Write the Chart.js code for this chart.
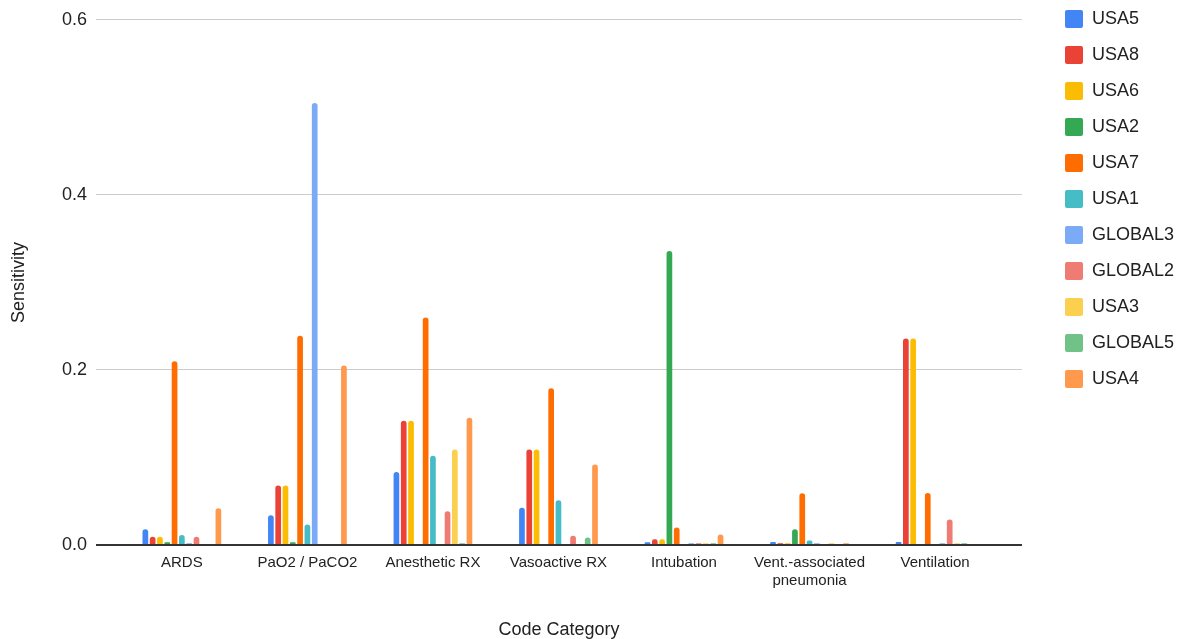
<!DOCTYPE html>
<html>
<head>
<meta charset="utf-8">
<script src="https://cdn.jsdelivr.net/npm/chart.js@4/dist/chart.umd.min.js"></script>
<style>
  html, body { margin: 0; padding: 0; background: #fff; }
  #wrap { width: 1180px; height: 639px; position: relative; }
</style>
</head>
<body>
<div id="wrap"><canvas id="chart"></canvas></div>
<script>
const categories = ['ARDS', 'PaO2 / PaCO2', 'Anesthetic RX', 'Vasoactive RX', 'Intubation', ['Vent.-associated', 'pneumonia'], 'Ventilation']

const seriesNames = ['USA5', 'USA8', 'USA6', 'USA2', 'USA7', 'USA1', 'GLOBAL3', 'GLOBAL2', 'USA3', 'GLOBAL5', 'USA4']
const seriesColors = ['#4285f4', '#ea4335', '#fbbc04', '#34a853', '#ff6d01', '#46bdc6', '#7baaf7', '#f07b72', '#fcd04f', '#71c287', '#ff994d']

// one array per series, in category order
const usa5    = [0.018, 0.034, 0.0835, 0.0425, 0.003, 0.0035, 0.0035]
const usa8    = [0.0095, 0.068, 0.142, 0.109, 0.0065, 0.002, 0.236]
const usa6    = [0.0095, 0.068, 0.142, 0.109, 0.0065, 0.002, 0.236]
const usa2    = [0.003, 0.003, 0, 0, 0.336, 0.018, 0]
const usa7    = [0.21, 0.239, 0.26, 0.179, 0.02, 0.059, 0.0595]
const usa1    = [0.0115, 0.0235, 0.102, 0.051, 0, 0.005, 0]
const global3 = [0.002, 0.505, 0, 0, 0.002, 0.002, 0.002]
const global2 = [0.0095, 0, 0.0385, 0.0105, 0.002, 0, 0.029]
const usa3    = [0.001, 0.001, 0.109, 0.001, 0.002, 0.002, 0.002]
const global5 = [0.001, 0.001, 0.002, 0.0085, 0.002, 0, 0.002]
const usa4    = [0.042, 0.205, 0.1455, 0.092, 0.012, 0.002, 0]

const seriesValues = [usa5, usa8, usa6, usa2, usa7, usa1, global3, global2, usa3, global5, usa4]

const yTicks = [0, 0.2, 0.4, 0.6]

const font = "Arial, 'Liberation Sans', sans-serif"
const textColor = '#222222'

// move the legend to where Google put it
const legendPlace = {
    id: 'legendPlace',
    afterLayout(chart) {
        const lg = chart.legend
        const w = lg.width
        lg.left = 1047
        lg.right = lg.left + w
        lg.top = -8
    }
}

const datasets = seriesNames.map((name, i) => ({
    label: name,
    data: seriesValues[i].map((v, j) => ({ x: j, y: v })),
    backgroundColor: seriesColors[i],
    borderWidth: 0,
    borderRadius: 3,
    borderSkipped: 'start',
    categoryPercentage: 0.64,
    barPercentage: 0.78
}))

new Chart(document.getElementById('chart'), {
    type: 'bar',
    data: { datasets: datasets },
    options: {
        responsive: true,
        maintainAspectRatio: false,
        animation: false,
        layout: { padding: { top: 18, right: 21, left: 0, bottom: 0 } },
        plugins: {
            legend: {
                position: 'right',
                align: 'start',
                labels: {
                    boxWidth: 18,
                    boxHeight: 18,
                    padding: 18,
                    color: textColor,
                    font: { family: font, size: 18 },
                    generateLabels(chart) {
                        return chart.data.datasets.map((ds, i) => ({
                            text: ds.label,
                            fillStyle: ds.backgroundColor,
                            strokeStyle: ds.backgroundColor,
                            lineWidth: 0,
                            borderRadius: 2,
                            fontColor: textColor,
                            datasetIndex: i
                        }))
                    }
                }
            },
            tooltip: { enabled: false }
        },
        scales: {
            x: {
                type: 'linear',
                offset: false,
                min: -0.684,
                max: 6.692,
                afterFit: (s) => { s.height = 94 },
                afterBuildTicks: (s) => { s.ticks = categories.map((c, i) => ({ value: i })) },
                grid: { display: false, drawTicks: false, offset: false },
                border: { display: false },
                ticks: {
                    autoSkip: false,
                    maxRotation: 0,
                    padding: 8,
                    color: textColor,
                    font: { family: font, size: 15, lineHeight: 1.25 },
                    callback: (v) => categories[v]
                },
                title: {
                    display: true,
                    text: 'Code Category',
                    color: textColor,
                    font: { family: font, size: 18 },
                    padding: { top: 4, bottom: -2 }
                }
            },
            y: {
                min: 0,
                max: 0.6,
                afterFit: (s) => { s.width = 96 },
                afterBuildTicks: (s) => { s.ticks = yTicks.map(v => ({ value: v })) },
                grid: {
                    drawTicks: false,
                    color: (c) => c.tick && c.tick.value === 0 ? '#333333' : '#cccccc',
                    lineWidth: (c) => c.tick && c.tick.value === 0 ? 2 : 1
                },
                border: { display: false },
                ticks: {
                    padding: 9,
                    color: textColor,
                    font: { family: font, size: 18 },
                    callback: (v) => v.toFixed(1)
                },
                title: {
                    display: true,
                    text: 'Sensitivity',
                    color: textColor,
                    font: { family: font, size: 18 },
                    padding: { top: 8, bottom: 0 }
                }
            }
        }
    },
    plugins: [legendPlace]
})
</script>
</body>
</html>
